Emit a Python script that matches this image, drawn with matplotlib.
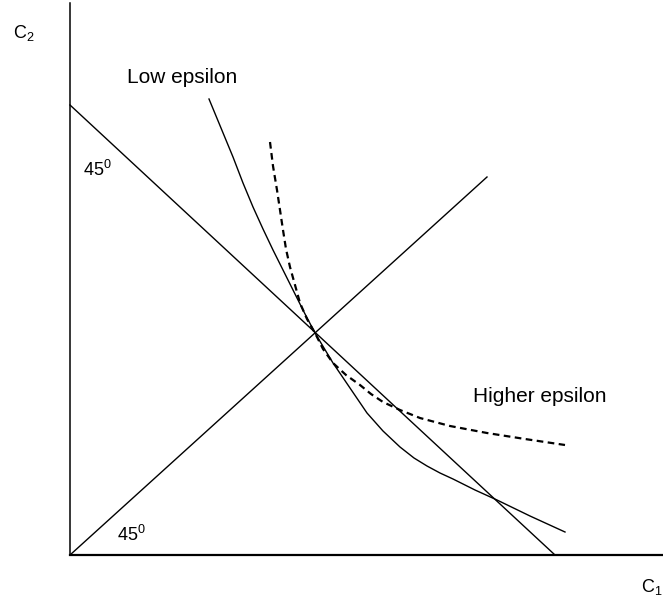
import matplotlib.pyplot as plt

plt.rcParams['font.family'] = ['Liberation Sans', 'DejaVu Sans']
plt.rcParams['mathtext.fontset'] = 'custom'
plt.rcParams['mathtext.rm'] = 'Liberation Sans'
plt.rcParams['mathtext.it'] = 'Liberation Sans'

# budget line and 45 degree ray
budget_x = [0, 485]
budget_y = [450, 0]
ray_x = [0, 417]
ray_y = [0, 378]

# indifference curves
low_x = [139, 151, 163, 173, 183, 193, 203, 213, 223, 234, 245,
         263, 280, 297, 313, 330, 344, 357, 370, 383, 405, 427, 460, 495]
low_y = [456, 427, 398, 372, 348, 326, 305, 285, 265, 243, 222,
         192, 167, 142, 124, 108, 97, 89, 82, 76, 65, 55, 39, 23]
high_x = [200, 203, 207, 210, 213, 216, 220, 225, 230, 237, 245, 253,
          263, 276, 290, 301, 313, 330, 350, 380, 417, 455, 495]
high_y = [413, 389, 365, 345, 325, 306, 288, 270, 252, 236, 222, 206,
          192, 180, 170, 161, 153, 145, 137, 129, 122, 116, 110]

fig = plt.figure(figsize=(6.63, 6.03), dpi=100)
ax = fig.add_axes([0, 0, 1, 1])
ax.set_xlim(-70, 593)
ax.set_ylim(-48, 555)
ax.axis('off')

# axes
ax.plot([0, 0], [0, 552], color='black', lw=1.1)
ax.plot([0, 593], [0, 0], color='black', lw=1.6)

ax.plot(budget_x, budget_y, color='black', lw=1.0)
ax.plot(ray_x, ray_y, color='black', lw=1.0)
ax.plot(low_x, low_y, color='black', lw=1.0)
ax.plot(high_x, high_y, color='black', lw=1.6, linestyle=(0, (3, 2)))

ax.text(57, 472, 'Low epsilon', fontsize=15, va='baseline')
ax.text(403, 153, 'Higher epsilon', fontsize=15, va='baseline')
ax.text(13, 379, r'45$^{\mathrm{0}}$', fontsize=13, va='baseline')
ax.text(47, 14, r'45$^{\mathrm{0}}$', fontsize=13, va='baseline')
ax.text(-57, 517, r'C$_{\mathrm{2}}$', fontsize=13, va='baseline')
ax.text(571, -37, r'C$_{\mathrm{1}}$', fontsize=13, va='baseline')

fig.savefig('out.png', dpi=100)
